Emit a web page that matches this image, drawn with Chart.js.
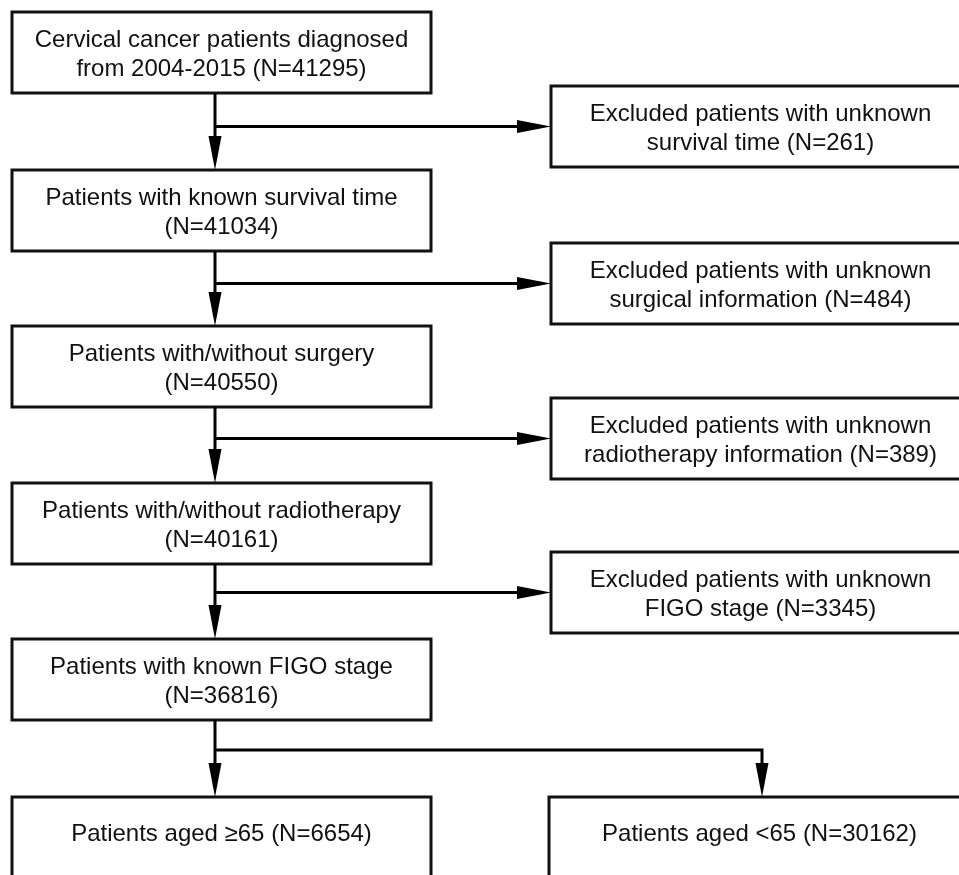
<!DOCTYPE html>
<html>
<head>
<meta charset="utf-8">
<script src="https://cdn.jsdelivr.net/npm/chart.js@4/dist/chart.umd.min.js"></script>
<style>
    html, body { margin: 0; padding: 0; background: #fff; }
    #wrap { width: 959px; height: 875px; position: relative; }
</style>
</head>
<body>
<div id="wrap"><canvas id="flowChart"></canvas></div>
<script>
// Flow of patient selection
const mainSteps = [
    ['Cervical cancer patients diagnosed', 'from 2004-2015'],
    ['Patients with known survival time', ''],
    ['Patients with/without surgery', ''],
    ['Patients with/without radiotherapy', ''],
    ['Patients with known FIGO stage', '']
];
const mainCounts = [41295, 41034, 40550, 40161, 36816];

const excludedReasons = [
    ['Excluded patients with unknown', 'survival time'],
    ['Excluded patients with unknown', 'surgical information'],
    ['Excluded patients with unknown', 'radiotherapy information'],
    ['Excluded patients with unknown', 'FIGO stage']
];
const excludedCounts = [261, 484, 389, 3345];

const subgroupLabels = ['Patients aged ≥65', 'Patients aged <65'];
const subgroupCounts = [6654, 30162];

// layout (page units, y grows downwards)
const spineX = 215;
const mainLeft = 12, mainRight = 431, boxHeight = 81;
const mainTops = [12, 170, 326, 483, 639];
const exclLeft = 551, exclRight = 970;
const exclTops = [86, 243, 398, 552];
const subTop = 797, subHeight = 100;
const subBoxes = [[12, 431], [549, 970]];
const splitY = 750, splitRightX = 762;
const arrowLen = 34, arrowHalf = 6.5;
const lineGap = 29;
const textShift = 2;
const fontSpec = '24px "Liberation Sans", Arial, sans-serif';

function countText(n) {
    return '(N=' + n + ')';
}

// connector polylines, last point is the arrow tip
const connectors = [];
for (let i = 0; i < mainTops.length - 1; i++) {
    connectors.push([{ x: spineX, y: mainTops[i] + boxHeight }, { x: spineX, y: mainTops[i + 1] }]);
    const by = exclTops[i] + boxHeight / 2;
    connectors.push([{ x: spineX, y: by }, { x: exclLeft, y: by }]);
}
connectors.push([{ x: spineX, y: mainTops[4] + boxHeight }, { x: spineX, y: subTop }]);
connectors.push([{ x: spineX, y: splitY }, { x: splitRightX, y: splitY }, { x: splitRightX, y: subTop }]);

// line stops where the arrowhead begins
function trimmed(points) {
    const pts = points.map(p => ({ x: p.x, y: p.y }));
    const a = pts[pts.length - 2], b = pts[pts.length - 1];
    const dx = b.x - a.x, dy = b.y - a.y;
    const len = Math.hypot(dx, dy);
    b.x -= dx / len * (arrowLen - 2);
    b.y -= dy / len * (arrowLen - 2);
    return pts;
}

const boxes = [];
mainTops.forEach((t, i) => {
    const lines = mainSteps[i][1]
        ? [mainSteps[i][0], mainSteps[i][1] + ' ' + countText(mainCounts[i])]
        : [mainSteps[i][0], countText(mainCounts[i])];
    boxes.push({ l: mainLeft, r: mainRight, t: t, b: t + boxHeight, lines: lines, cy: t + boxHeight / 2 + textShift });
});
exclTops.forEach((t, i) => {
    boxes.push({ l: exclLeft, r: exclRight, t: t, b: t + boxHeight,
        lines: [excludedReasons[i][0], excludedReasons[i][1] + ' ' + countText(excludedCounts[i])], cy: t + boxHeight / 2 + textShift });
});
subBoxes.forEach((lr, i) => {
    boxes.push({ l: lr[0], r: lr[1], t: subTop, b: subTop + subHeight,
        lines: [subgroupLabels[i] + ' ' + countText(subgroupCounts[i])], cy: subTop + 37 });
});

const flowPlugin = {
    id: 'flowPlugin',
    beforeDatasetsDraw(chart) {
        const { ctx, scales: { x, y } } = chart;
        ctx.save();
        ctx.lineWidth = 3;
        ctx.strokeStyle = '#111';
        ctx.fillStyle = '#111';
        ctx.font = fontSpec;
        ctx.textAlign = 'center';
        ctx.textBaseline = 'middle';
        boxes.forEach(bx => {
            const px1 = x.getPixelForValue(bx.l), px2 = x.getPixelForValue(bx.r);
            const py1 = y.getPixelForValue(bx.t), py2 = y.getPixelForValue(bx.b);
            ctx.strokeRect(px1, py1, px2 - px1, py2 - py1);
            const cx = (px1 + px2) / 2;
            const n = bx.lines.length;
            bx.lines.forEach((txt, k) => {
                const ty = y.getPixelForValue(bx.cy + (k - (n - 1) / 2) * lineGap);
                ctx.fillText(txt, cx, ty);
            });
        });
        ctx.restore();
    },
    afterDatasetsDraw(chart) {
        const { ctx, scales: { x, y } } = chart;
        ctx.save();
        ctx.fillStyle = '#000';
        connectors.forEach(pts => {
            const a = pts[pts.length - 2], b = pts[pts.length - 1];
            const tx = x.getPixelForValue(b.x), ty = y.getPixelForValue(b.y);
            const ax = x.getPixelForValue(a.x), ay = y.getPixelForValue(a.y);
            const ang = Math.atan2(ty - ay, tx - ax);
            ctx.save();
            ctx.translate(tx, ty);
            ctx.rotate(ang);
            ctx.beginPath();
            ctx.moveTo(0, 0);
            ctx.lineTo(-arrowLen, -arrowHalf);
            ctx.lineTo(-arrowLen, arrowHalf);
            ctx.closePath();
            ctx.fill();
            ctx.restore();
        });
        ctx.restore();
    }
};

new Chart(document.getElementById('flowChart'), {
    type: 'scatter',
    data: {
        datasets: connectors.map(pts => ({
            data: trimmed(pts),
            showLine: true,
            borderColor: '#000',
            borderWidth: 3,
            pointRadius: 0,
            borderCapStyle: 'butt',
            borderJoinStyle: 'miter',
            tension: 0
        }))
    },
    options: {
        responsive: true,
        maintainAspectRatio: false,
        animation: false,
        layout: { padding: 0 },
        plugins: { legend: { display: false }, tooltip: { enabled: false } },
        scales: {
            x: { type: 'linear', min: 0, max: 959, display: false },
            y: { type: 'linear', min: 0, max: 875, reverse: true, display: false }
        }
    },
    plugins: [flowPlugin]
});
</script>
</body>
</html>
